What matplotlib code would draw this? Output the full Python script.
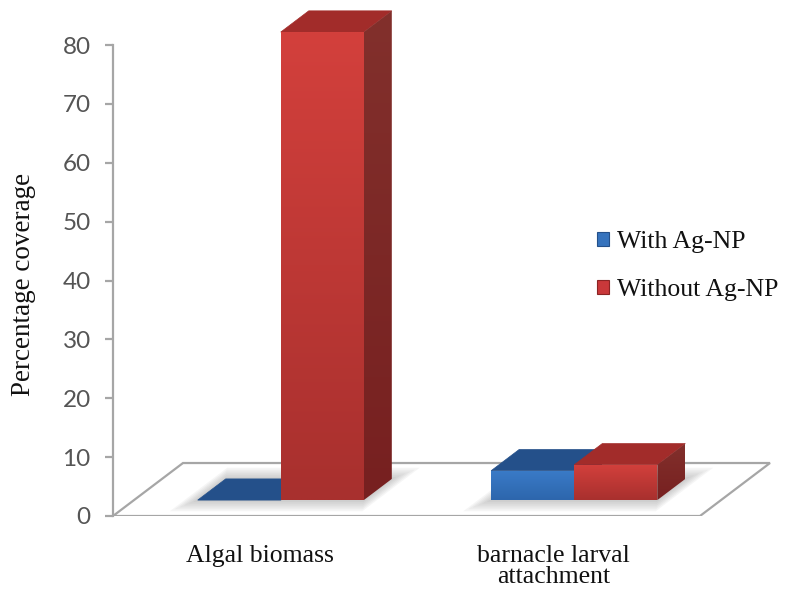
import numpy as np
import matplotlib
matplotlib.use("Agg")
import matplotlib.pyplot as plt
from matplotlib.patches import Polygon, Patch
from matplotlib.colors import to_rgb

# ---- data ----
categories = ["Algal biomass", "barnacle larval\nattachment"]
series_names = ["With Ag-NP", "Without Ag-NP"]
with_agnp = [0.0, 5.0]
without_agnp = [79.5, 6.0]
y_ticks = [0, 10, 20, 30, 40, 50, 60, 70, 80]

# ---- styling ----
face_colors = {
    "With Ag-NP": dict(front_top="#3A7BC8", front_bot="#2D66AC", top="#24508A",
                       side_top="#1C3F6E", side_bot="#1C3F6E",
                       legend="#3673BD", legend_edge="#24508A"),
    "Without Ag-NP": dict(front_top="#D3403C", front_bot="#A8302E", top="#A22C2A",
                          side_top="#82302C", side_bot="#772020",
                          legend="#C9383A", legend_edge="#8A2424"),
}
serif = "Liberation Serif"
tick_font = "Lato"
text_color = "#111111"

DX, DY = 0.2385, 9.0        # oblique depth vector of the floor (data units)
D0, D1 = 0.30, 0.70         # bar depth span as a fraction of the floor depth
BAR_W = 0.283               # bar width in category units

fig = plt.figure(figsize=(7.91, 6.04), dpi=100)
ax = fig.add_axes([113 / 791, 88 / 604, 2.3 * 293.5 / 791, 90 * 5.8875 / 604])
ax.set_autoscale_on(False)
ax.set_xlim(0, 2.3)
ax.set_ylim(0, 90)
ax.patch.set_visible(False)


def shaded_face(verts, c_top, c_bot, z):
    poly = Polygon(verts, closed=True, facecolor="none", edgecolor="none")
    ax.add_patch(poly)
    xs = [v[0] for v in verts]
    ys = [v[1] for v in verts]
    if max(ys) - min(ys) < 1e-6 or max(xs) - min(xs) < 1e-6:
        return
    t = np.linspace(0, 1, 128)[:, None]
    ct, cb = np.array(to_rgb(c_top)), np.array(to_rgb(c_bot))
    img = (ct * (1 - t) + cb * t)[:, None, :]
    im = ax.imshow(img, extent=(min(xs), max(xs), min(ys), max(ys)), origin="upper",
                   aspect="auto", interpolation="bilinear", zorder=z)
    im.set_clip_path(poly)


def shift(p, d):
    return (p[0] + d * DX, p[1] + d * DY)


def bar3d(x0, x1, v, style, z):
    top = [shift((x0, v), D0), shift((x1, v), D0), shift((x1, v), D1), shift((x0, v), D1)]
    ax.add_patch(Polygon(top, closed=True, facecolor=style["top"], edgecolor=style["top"],
                         lw=0.5, zorder=z))
    if v > 0:
        side = [shift((x1, 0), D0), shift((x1, v), D0), shift((x1, v), D1), shift((x1, 0), D1)]
        shaded_face(side, style["side_top"], style["side_bot"], z)
        front = [shift((x0, 0), D0), shift((x1, 0), D0), shift((x1, v), D0), shift((x0, v), D0)]
        shaded_face(front, style["front_top"], style["front_bot"], z + 0.1)


# floor
floor = Polygon([(0, 0), (2, 0), (2 + DX, DY), (DX, DY)], closed=True,
                facecolor="white", edgecolor="#A6A6A6", lw=1.6, zorder=1)
ax.add_patch(floor)

# soft shadows under each pair of bars
px = 1 / 293.5
for c in [0.5, 1.5]:
    x0, x1 = c - BAR_W, c + BAR_W
    for k in range(6):
        e = (k + 1) * 2.2 * px
        ed = (k + 1) * 0.035
        verts = [shift((x0 - e, 0), D0 - ed), shift((x1 + e, 0), D0 - ed),
                 shift((x1 + e, 0), D1 + ed), shift((x0 - e, 0), D1 + ed)]
        ax.add_patch(Polygon(verts, closed=True, facecolor="#7F7F7F", edgecolor="none",
                             alpha=0.07, zorder=2))

# bars
for i, c in enumerate([0.5, 1.5]):
    bar3d(c - BAR_W, c, with_agnp[i], face_colors["With Ag-NP"], 3)
    bar3d(c, c + BAR_W, without_agnp[i], face_colors["Without Ag-NP"], 4)

# axes styling
for s in ["top", "right", "bottom"]:
    ax.spines[s].set_visible(False)
ax.spines["left"].set_bounds(0, 80)
ax.spines["left"].set_color("#A6A6A6")
ax.spines["left"].set_linewidth(1.6)
ax.spines["left"].set_zorder(5)
ax.set_yticks(y_ticks)
ax.set_yticklabels([str(t) for t in y_ticks])
ax.tick_params(axis="y", direction="out", length=6, width=1.6, color="#A6A6A6",
               pad=10, labelsize=17.5, labelcolor="#555555")
for lbl in ax.get_yticklabels():
    lbl.set_fontfamily(tick_font)

ax.set_xticks([0.5, 1.5])
ax.set_xticklabels(categories, fontfamily=serif, fontsize=18.5, color=text_color,
                   linespacing=0.92)
ax.tick_params(axis="x", length=0, pad=21)

ax.set_ylabel("Percentage coverage", fontfamily=serif, fontsize=19.5, color=text_color)
ax.yaxis.set_label_coords(-0.114, (516 - 284) / 529.875)

handles = [Patch(facecolor=face_colors[n]["legend"], edgecolor=face_colors[n]["legend_edge"],
                 lw=0.8) for n in series_names]
leg = ax.legend(handles, series_names, loc="center left",
                bbox_to_anchor=(597 / 791, 1 - 266 / 604), bbox_transform=fig.transFigure,
                frameon=False, prop={"family": serif, "size": 18.5},
                handlelength=0.47, handleheight=0.47, handletextpad=0.32,
                labelspacing=1.02, borderpad=0, borderaxespad=0)
for t in leg.get_texts():
    t.set_color(text_color)

fig.savefig("out.png", dpi=100)
